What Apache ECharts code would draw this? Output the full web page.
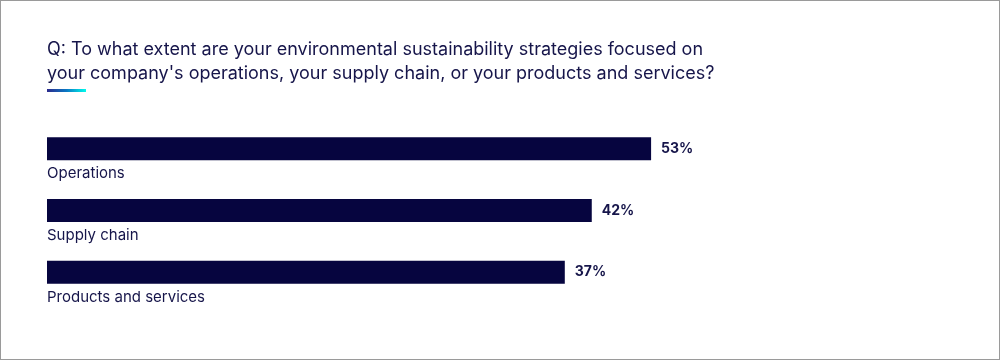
<!DOCTYPE html>
<html><head><meta charset="utf-8">
<script src="https://cdn.jsdelivr.net/npm/echarts@6/dist/echarts.min.js"></script>
<style>html,body{margin:0;padding:0;background:#fff}#c{width:1000px;height:360px;box-sizing:border-box;border:1px solid #9a9a9a}</style>
</head><body><div id="c"></div>
<script>
const questionText = "Q: To what extent are your environmental sustainability strategies focused on\nyour company's operations, your supply chain, or your products and services?";
const categories = ["Operations", "Supply chain", "Products and services"];
const values = [53, 42, 37];
const labelSuffix = "%";

const axisMin = -59, axisMax = 100;
const chart = echarts.init(document.getElementById('c'), null, {renderer: 'canvas'});
chart.setOption({
  backgroundColor: '#ffffff',
  animation: false,
  title: {
    text: questionText,
    left: 41, top: 32,
    textStyle: {fontFamily: 'Inter', fontSize: 18, fontWeight: 'normal', color: '#16154a', lineHeight: 24}
  },
  graphic: [{
    type: 'rect', left: 46, top: 88,
    shape: {width: 39, height: 3},
    style: {fill: new echarts.graphic.LinearGradient(0, 0, 1, 0, [
      {offset: 0, color: '#2c2a8c'}, {offset: 0.5, color: '#0a78c4'}, {offset: 1, color: '#00fbec'}
    ])}
  }],
  grid: {left: 46, right: 94.4, top: 117, height: 185, containLabel: false},
  xAxis: {type: 'value', min: axisMin, max: axisMax, startValue: axisMin, show: false},
  yAxis: {
    type: 'category', data: categories, inverse: true,
    axisLine: {show: false}, axisTick: {show: false}, splitLine: {show: false},
    axisLabel: {show: false}
  },
  series: [{
    type: 'bar', data: values, barWidth: 23,
    itemStyle: {color: '#06053f'},
    label: {
      show: true, position: 'right', distance: 10,
      formatter: p => p.value + labelSuffix,
      fontFamily: 'Inter', fontSize: 14, fontWeight: 'bold', color: '#16154a'
    }
  }, {
    type: 'scatter', symbolSize: 0, silent: true, clip: false,
    itemStyle: {opacity: 1, color: '#16154a'},
    data: categories.map((c, i) => [axisMin, c]),
    label: {
      show: true, position: 'right', distance: 0, offset: [0, 25],
      formatter: p => p.value[1],
      fontFamily: 'Inter', fontSize: 15, color: '#16154a', opacity: 1
    }
  }]
});
</script></body></html>
